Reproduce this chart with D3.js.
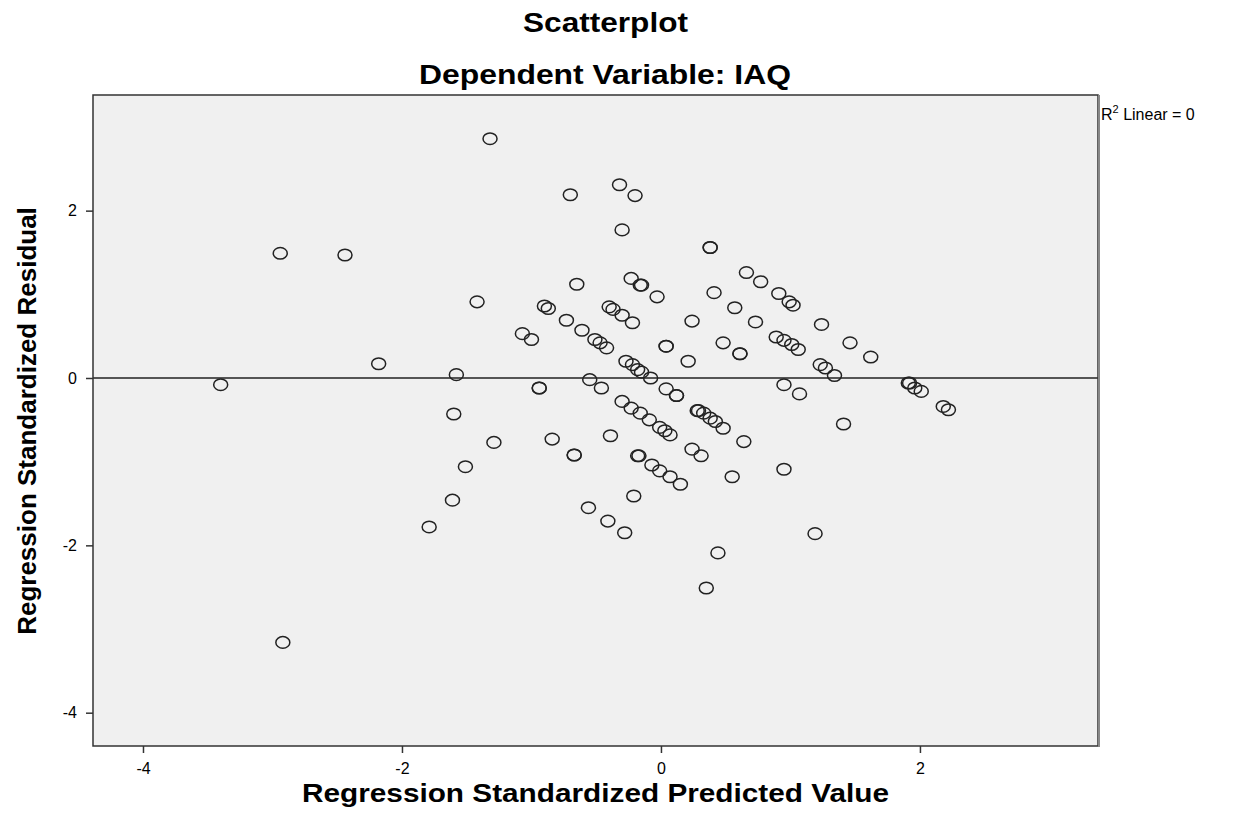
<!DOCTYPE html>
<html>
<head>
<meta charset="utf-8">
<script src="https://cdn.jsdelivr.net/npm/d3@7"></script>
<style>
  body { margin: 0; background: #fff; }
  text { font-family: "Liberation Sans", Arial, sans-serif; fill: #000; }
  .title { font-weight: bold; font-size: 27px; }
  .axis-title { font-weight: bold; font-size: 26px; }
</style>
</head>
<body>
<div id="chart"></div>
<script>
// predicted (x) and residual (y)
const predicted = [
  -1.32, -2.94, -2.44, -1.42, -2.18, -1.58, -3.40, -1.60, -1.29, -1.51,
  -1.61, -1.79, -2.92, -0.70, -0.32, -0.20, -0.30, 0.38, 0.38, 0.66,
  0.77, 0.91, 0.99, 1.02, -0.65, -0.23, -0.16, -0.15, -0.03, 0.41,
  0.57, 0.73, 0.24, -0.90, -0.87, -0.73, -0.61, -0.51, -0.47, -0.42,
  -0.40, -0.37, -0.30, -0.22, -1.07, -1.00, 0.04, 0.04, 0.21, 0.48,
  0.61, 0.61, 0.89, 0.95, 1.01, 1.06, -0.27, -0.22, -0.18, -0.15,
  -0.08, -0.55, -0.46, -0.94, -0.94, 0.04, 0.12, 0.12, -0.30, -0.23,
  -0.16, -0.09, -0.01, 0.03, 0.07, 0.28, 0.29, 0.33, 0.38, 0.42,
  0.48, 0.95, 1.07, 1.24, 1.46, 1.62, 1.23, 1.27, 1.34, 1.91,
  1.92, 1.96, 2.01, 2.18, 2.22, 1.41, 1.19, 0.95, -0.84, -0.67,
  -0.67, -0.39, 0.64, 0.24, 0.31, 0.55, -0.18, -0.17, -0.07, -0.01,
  0.07, 0.15, -0.21, -0.56, -0.41, -0.28, 0.44, 0.35
];
const residual = [
  2.86, 1.49, 1.47, 0.91, 0.17, 0.04, -0.08, -0.43, -0.77, -1.06,
  -1.46, -1.78, -3.16, 2.19, 2.31, 2.18, 1.77, 1.56, 1.56, 1.26,
  1.15, 1.01, 0.91, 0.87, 1.12, 1.19, 1.11, 1.11, 0.97, 1.02,
  0.84, 0.67, 0.68, 0.86, 0.83, 0.69, 0.57, 0.46, 0.42, 0.36,
  0.85, 0.82, 0.75, 0.66, 0.53, 0.46, 0.38, 0.38, 0.20, 0.42,
  0.29, 0.29, 0.49, 0.45, 0.40, 0.34, 0.20, 0.16, 0.10, 0.07,
  0.00, -0.02, -0.12, -0.12, -0.12, -0.13, -0.21, -0.21, -0.28, -0.36,
  -0.42, -0.50, -0.59, -0.63, -0.68, -0.39, -0.39, -0.42, -0.48, -0.52,
  -0.60, -0.08, -0.19, 0.64, 0.42, 0.25, 0.16, 0.12, 0.03, -0.06,
  -0.06, -0.12, -0.16, -0.34, -0.38, -0.55, -1.86, -1.09, -0.73, -0.92,
  -0.92, -0.69, -0.76, -0.85, -0.93, -1.18, -0.93, -0.93, -1.04, -1.11,
  -1.18, -1.27, -1.41, -1.55, -1.71, -1.85, -2.09, -2.51
];
const xTicks = [-4, -2, 0, 2];
const yTicks = [-4, -2, 0, 2];
const xDomain = [-4.386, 3.375];
const yDomain = [-4.398, 3.382];

const W = 1243, H = 827;
const margin = { top: 95, right: 145, bottom: 81, left: 93 };
const width = W - margin.left - margin.right;
const height = H - margin.top - margin.bottom;

const svg = d3.select("#chart").append("svg")
  .attr("width", W).attr("height", H);

const g = svg.append("g")
  .attr("transform", "translate(" + margin.left + "," + margin.top + ")");

const x = d3.scaleLinear().domain(xDomain).range([0, width]);
const y = d3.scaleLinear().domain(yDomain).range([height, 0]);

g.append("rect")
  .attr("width", width).attr("height", height)
  .attr("fill", "#f0f0f0");

// zero line
g.append("line")
  .attr("x1", 0).attr("x2", width)
  .attr("y1", y(0)).attr("y2", y(0))
  .attr("stroke", "#555").attr("stroke-width", 2);

const pts = predicted.map((d, i) => ({ x: d, y: residual[i] }));
g.selectAll("ellipse.pt").data(pts).enter().append("ellipse")
  .attr("class", "pt")
  .attr("cx", d => x(d.x))
  .attr("cy", d => y(d.y))
  .attr("rx", 7).attr("ry", 5.8)
  .attr("fill", "none")
  .attr("stroke", "#222")
  .attr("stroke-width", 1.5);

// frame
g.append("rect")
  .attr("width", width).attr("height", height)
  .attr("fill", "none").attr("stroke", "#333").attr("stroke-width", 1.5);
g.append("line")
  .attr("x1", width + 1).attr("x2", width + 1)
  .attr("y1", 0).attr("y2", height + 1)
  .attr("stroke", "#888").attr("stroke-width", 2);

const xAxis = g.append("g")
  .attr("transform", "translate(0," + height + ")")
  .call(d3.axisBottom(x).tickValues(xTicks).tickFormat(d => String(d)).tickSize(7).tickPadding(10));
const yAxis = g.append("g")
  .call(d3.axisLeft(y).tickValues(yTicks).tickFormat(d => String(d)).tickSize(7).tickPadding(9));
[xAxis, yAxis].forEach(a => {
  a.select(".domain").remove();
  a.selectAll(".tick line").attr("stroke", "#333").attr("stroke-width", 1.5);
  a.selectAll(".tick text").attr("font-family", "Liberation Sans, Arial, sans-serif").attr("font-size", 16);
});

// the source picture is a little wider than tall, so stretch the text to the same widths
svg.append("text").attr("class", "title")
  .attr("x", 523).attr("y", 32)
  .attr("textLength", 165).attr("lengthAdjust", "spacingAndGlyphs")
  .text("Scatterplot");
svg.append("text").attr("class", "title")
  .attr("x", 419).attr("y", 84)
  .attr("textLength", 372).attr("lengthAdjust", "spacingAndGlyphs")
  .text("Dependent Variable: IAQ");

svg.append("text").attr("class", "axis-title")
  .attr("x", 302).attr("y", 802)
  .attr("textLength", 587).attr("lengthAdjust", "spacingAndGlyphs")
  .text("Regression Standardized Predicted Value");
svg.append("text").attr("class", "axis-title")
  .attr("transform", "translate(36,421) rotate(-90)")
  .attr("text-anchor", "middle")
  .text("Regression Standardized Residual");

const r2 = svg.append("text")
  .attr("x", margin.left + width + 3).attr("y", 120)
  .attr("font-size", 16);
r2.append("tspan").text("R");
r2.append("tspan").attr("dy", -7).attr("font-size", 11).text("2");
r2.append("tspan").attr("dy", 7).text(" Linear = 0");
</script>
</body>
</html>
